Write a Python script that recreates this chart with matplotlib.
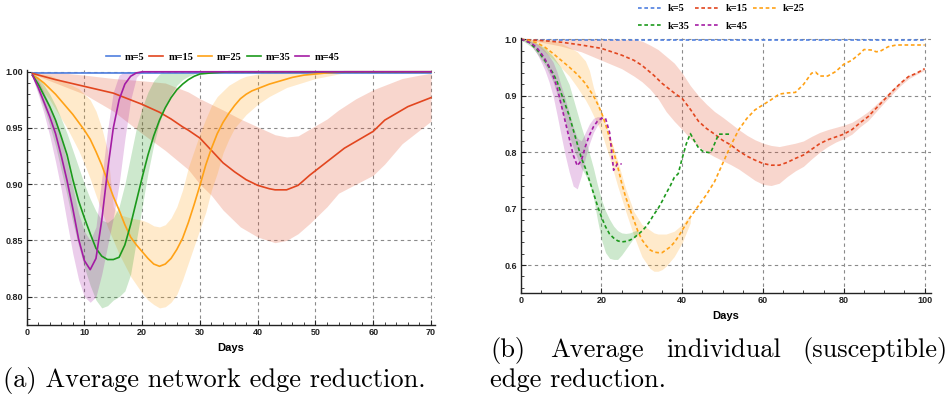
import matplotlib
matplotlib.use("Agg")
import matplotlib.pyplot as plt
from matplotlib.ticker import MultipleLocator, FormatStrFormatter

# ---------------- (a) average network edge reduction ----------------
net_labels = ["m=5", "m=15", "m=25", "m=35", "m=45"]

net_m5_days = [1, 70]
net_m5 = [0.9993, 0.9993]
net_m5_lo = [0.9985, 0.9985]
net_m5_hi = [1.0, 1.0]

net_m15_days = [1, 5, 10, 15, 20, 23, 25, 27, 28, 30, 32, 34, 36, 38, 40, 42, 43, 45,
                46, 47, 49, 51, 53, 55, 57, 59, 60, 62, 64, 66, 68, 70]
net_m15 = [0.9985, 0.993, 0.987, 0.981, 0.971, 0.964, 0.958, 0.951, 0.948, 0.941, 0.930,
           0.919, 0.911, 0.904, 0.899, 0.896, 0.895, 0.895, 0.897, 0.899, 0.908, 0.916,
           0.924, 0.932, 0.938, 0.944, 0.947, 0.957, 0.963, 0.969, 0.973, 0.977]
net_m15_band_days = [1, 5, 10, 15, 20, 24, 28, 30, 32, 34, 37, 40, 43, 45, 47, 49, 52,
                     54, 57, 60, 62, 65, 68, 70]
net_m15_hi = [1.0, 0.9995, 0.997, 0.994, 0.992, 0.990, 0.982, 0.976, 0.971, 0.966, 0.958,
              0.951, 0.944, 0.942, 0.943, 0.949, 0.958, 0.966, 0.976, 0.984, 0.988, 0.994,
              0.997, 0.9986]
net_m15_lo = [0.998, 0.990, 0.980, 0.965, 0.945, 0.930, 0.913, 0.900, 0.890, 0.877, 0.862,
              0.853, 0.848, 0.850, 0.856, 0.865, 0.880, 0.892, 0.900, 0.908, 0.918, 0.936,
              0.948, 0.956]

net_m25_days = list(range(1, 41)) + [42, 44, 46, 48, 50, 52, 55, 70]
net_m25 = [0.997, 0.994, 0.990, 0.985, 0.980, 0.974, 0.968, 0.962, 0.955, 0.948,
           0.940, 0.929, 0.917, 0.903, 0.889, 0.877, 0.864, 0.853, 0.846, 0.840,
           0.834, 0.829, 0.827, 0.829, 0.834, 0.842, 0.852, 0.866, 0.882, 0.899,
           0.917, 0.932, 0.945, 0.955, 0.963, 0.970, 0.976, 0.980, 0.983, 0.985,
           0.989, 0.992, 0.995, 0.997, 0.998, 0.999, 1.0, 1.0]
net_m25_band_days = [1, 4, 7, 9, 10, 11, 12, 13, 14, 15, 16, 18, 20, 21, 22, 23, 24, 25,
                     26, 27, 28, 29, 30, 31, 32, 33, 34, 35, 36, 37, 38, 40, 42, 45, 50,
                     55, 60, 70]
net_m25_hi = [0.999, 0.997, 0.990, 0.985, 0.980, 0.975, 0.965, 0.950, 0.930, 0.880,
              0.873, 0.870, 0.868, 0.866, 0.863, 0.862, 0.864, 0.870, 0.880, 0.895,
              0.915, 0.930, 0.945, 0.958, 0.970, 0.978, 0.983, 0.988, 0.991, 0.994,
              0.996, 0.998, 1.0, 1.0, 1.0, 1.0, 1.0, 1.0]
net_m25_lo = [0.995, 0.975, 0.950, 0.930, 0.918, 0.905, 0.890, 0.876, 0.862, 0.850,
              0.838, 0.818, 0.803, 0.797, 0.793, 0.790, 0.791, 0.795, 0.802, 0.815,
              0.830, 0.845, 0.860, 0.875, 0.895, 0.910, 0.928, 0.940, 0.950, 0.956,
              0.962, 0.971, 0.978, 0.986, 0.994, 0.999, 1.0, 1.0]

net_m35_days = list(range(1, 31)) + [32, 35, 70]
net_m35 = [0.997, 0.989, 0.979, 0.969, 0.957, 0.942, 0.926, 0.904, 0.885, 0.870,
           0.856, 0.843, 0.836, 0.833, 0.833, 0.835, 0.846, 0.864, 0.885, 0.906,
           0.926, 0.943, 0.957, 0.968, 0.977, 0.984, 0.989, 0.993, 0.996, 0.998,
           0.999, 1.0, 1.0]
net_m35_band_days = list(range(1, 31)) + [70]
net_m35_hi = [0.999, 0.995, 0.988, 0.980, 0.970, 0.958, 0.945, 0.930, 0.915, 0.900,
              0.887, 0.876, 0.868, 0.866, 0.870, 0.880, 0.900, 0.925, 0.950, 0.968,
              0.982, 0.992, 0.998, 1.0, 1.0, 1.0, 1.0, 1.0, 1.0, 1.0, 1.0]
net_m35_lo = [0.995, 0.982, 0.968, 0.952, 0.934, 0.912, 0.890, 0.866, 0.845, 0.826,
              0.810, 0.797, 0.790, 0.792, 0.797, 0.800, 0.805, 0.820, 0.850, 0.880,
              0.910, 0.935, 0.955, 0.970, 0.980, 0.988, 0.993, 0.996, 0.998, 1.0, 1.0]

net_m45_days = list(range(1, 21)) + [70]
net_m45 = [0.997, 0.986, 0.973, 0.960, 0.945, 0.925, 0.903, 0.878, 0.851, 0.832,
           0.824, 0.834, 0.868, 0.912, 0.950, 0.975, 0.989, 0.996, 0.999, 1.0, 1.0]
net_m45_hi = [0.999, 0.993, 0.982, 0.970, 0.957, 0.940, 0.920, 0.897, 0.874, 0.858,
              0.850, 0.862, 0.905, 0.948, 0.982, 0.997, 1.0, 1.0, 1.0, 1.0, 1.0]
net_m45_lo = [0.995, 0.980, 0.963, 0.943, 0.920, 0.895, 0.866, 0.838, 0.815, 0.800,
              0.795, 0.800, 0.820, 0.845, 0.870, 0.900, 0.940, 0.975, 0.995, 1.0, 1.0]

# ---------------- (b) average individual edge reduction ----------------
ind_labels = ["k=5", "k=15", "k=25", "k=35", "k=45"]

ind_k5_days = [0, 100]
ind_k5 = [0.999, 0.999]

ind_k15_days = [0, 5, 10, 15, 20, 25, 28, 30, 33, 35, 38, 40, 42, 44, 46, 48, 50, 52, 54,
                56, 58, 60, 62, 64, 66, 68, 70, 72, 74, 76, 78, 80, 82, 84, 86, 88, 90,
                92, 94, 96, 98, 100]
ind_k15 = [1.0, 0.998, 0.995, 0.990, 0.984, 0.972, 0.963, 0.954, 0.936, 0.922, 0.905,
           0.895, 0.876, 0.855, 0.842, 0.832, 0.821, 0.813, 0.802, 0.793, 0.786, 0.780,
           0.777, 0.777, 0.782, 0.789, 0.795, 0.805, 0.815, 0.822, 0.827, 0.832, 0.840,
           0.852, 0.863, 0.878, 0.893, 0.908, 0.922, 0.934, 0.940, 0.948]
ind_k15_band_days = [0, 5, 10, 15, 20, 25, 28, 30, 32, 34, 36, 38, 40, 42, 44, 46, 48,
                     50, 52, 54, 56, 58, 60, 62, 64, 66, 68, 70, 72, 74, 76, 78, 80, 82,
                     84, 86, 88, 90, 92, 94, 96, 98, 100]
ind_k15_hi = [1.0, 1.0, 1.0, 1.0, 1.0, 1.0, 1.0, 0.997, 0.990, 0.982, 0.970, 0.958, 0.940,
              0.918, 0.900, 0.885, 0.872, 0.862, 0.851, 0.840, 0.830, 0.822, 0.816,
              0.812, 0.810, 0.813, 0.816, 0.820, 0.828, 0.835, 0.840, 0.844, 0.848,
              0.853, 0.862, 0.872, 0.885, 0.898, 0.912, 0.925, 0.936, 0.942, 0.950]
ind_k15_lo = [1.0, 0.995, 0.988, 0.978, 0.963, 0.948, 0.935, 0.925, 0.912, 0.895, 0.872,
              0.855, 0.840, 0.824, 0.810, 0.800, 0.792, 0.785, 0.778, 0.770, 0.760,
              0.750, 0.743, 0.741, 0.745, 0.757, 0.767, 0.775, 0.788, 0.800, 0.810,
              0.818, 0.824, 0.832, 0.845, 0.856, 0.872, 0.888, 0.903, 0.918, 0.930,
              0.938, 0.945]

ind_k25_days = [0, 2, 4, 6, 8, 10, 12, 14, 16, 18, 19, 20, 21, 22, 23, 24, 25, 26, 27, 28,
                29, 30, 31, 32, 33, 34, 35, 36, 37, 38, 39, 40, 42, 44, 46, 48, 50, 52,
                54, 56, 58, 60, 62, 64, 66, 68, 70, 72, 73, 74, 76, 78, 80, 82, 84, 85,
                87, 88, 89, 91, 93, 95, 100]
ind_k25 = [1.0, 0.998, 0.994, 0.986, 0.975, 0.963, 0.951, 0.938, 0.922, 0.900, 0.886,
           0.870, 0.850, 0.825, 0.800, 0.775, 0.745, 0.720, 0.700, 0.680, 0.660, 0.645,
           0.635, 0.627, 0.623, 0.622, 0.622, 0.627, 0.632, 0.640, 0.650, 0.662, 0.685,
           0.705, 0.725, 0.748, 0.780, 0.812, 0.840, 0.860, 0.875, 0.884, 0.893, 0.903,
           0.905, 0.906, 0.920, 0.940, 0.942, 0.935, 0.935, 0.943, 0.956, 0.963, 0.975,
           0.982, 0.981, 0.978, 0.979, 0.987, 0.990, 0.990, 0.990]
ind_k25_band_days = [0, 4, 8, 10, 12, 14, 16, 17, 18, 19, 20, 22, 24, 26, 28, 30, 32, 33,
                     34, 35, 36, 38, 40, 42]
ind_k25_hi = [1.0, 1.0, 0.998, 0.993, 0.986, 0.978, 0.962, 0.945, 0.915, 0.892, 0.872,
              0.830, 0.785, 0.735, 0.695, 0.672, 0.662, 0.657, 0.655, 0.655, 0.655,
              0.660, 0.672, 0.690]
ind_k25_lo = [1.0, 0.990, 0.965, 0.950, 0.935, 0.915, 0.893, 0.880, 0.865, 0.850, 0.835,
              0.790, 0.740, 0.695, 0.652, 0.615, 0.594, 0.589, 0.589, 0.592, 0.598,
              0.615, 0.640, 0.675]

ind_k35_days = [0, 2, 4, 6, 8, 9, 10, 11, 12, 13, 14, 15, 16, 17, 18, 19, 20, 21, 22, 23,
                24, 25, 26, 27, 28, 29, 30, 31, 32, 33, 34, 35, 36, 37, 38, 39, 40, 41,
                42, 43, 44, 45, 46, 47, 48, 49, 50, 52]
ind_k35 = [1.0, 0.995, 0.982, 0.962, 0.940, 0.925, 0.905, 0.885, 0.865, 0.840, 0.815,
           0.790, 0.772, 0.750, 0.728, 0.705, 0.685, 0.668, 0.655, 0.648, 0.643, 0.641,
           0.642, 0.644, 0.648, 0.654, 0.660, 0.668, 0.678, 0.690, 0.700, 0.713, 0.727,
           0.740, 0.755, 0.762, 0.790, 0.815, 0.833, 0.820, 0.808, 0.802, 0.800, 0.799,
           0.815, 0.832, 0.832, 0.832]
ind_k35_band_days = [0, 3, 6, 8, 10, 12, 13, 14, 15, 16, 17, 18, 19, 20, 21, 22, 23, 24,
                     25, 26, 27, 28, 29]
ind_k35_hi = [1.0, 0.997, 0.985, 0.970, 0.950, 0.920, 0.895, 0.870, 0.845, 0.822, 0.798,
              0.772, 0.742, 0.716, 0.696, 0.681, 0.669, 0.661, 0.657, 0.656, 0.657,
              0.660, 0.662]
ind_k35_lo = [1.0, 0.985, 0.955, 0.925, 0.880, 0.830, 0.808, 0.790, 0.772, 0.760, 0.745,
              0.720, 0.680, 0.645, 0.622, 0.612, 0.610, 0.610, 0.618, 0.628, 0.638,
              0.648, 0.655]

ind_k45_days = list(range(0, 26))
ind_k45 = [1.0, 0.998, 0.995, 0.991, 0.985, 0.976, 0.965, 0.952, 0.935, 0.915, 0.885,
           0.855, 0.825, 0.795, 0.776, 0.785, 0.810, 0.830, 0.845, 0.855, 0.860, 0.860,
           0.835, 0.768, 0.780, 0.779]
ind_k45_band_days = list(range(0, 21))
ind_k45_hi = [1.0, 0.999, 0.998, 0.995, 0.992, 0.987, 0.980, 0.971, 0.960, 0.942, 0.918,
              0.895, 0.870, 0.845, 0.825, 0.820, 0.835, 0.850, 0.860, 0.863, 0.863]
ind_k45_lo = [1.0, 0.997, 0.993, 0.985, 0.975, 0.961, 0.945, 0.925, 0.900, 0.866, 0.830,
              0.795, 0.765, 0.740, 0.735, 0.758, 0.790, 0.815, 0.835, 0.848, 0.855]

# ---------------- styling ----------------
c_blue, c_red, c_orange, c_green, c_purple = "#4f7fdf", "#e2461f", "#ffa216", "#1c991c", "#a41ca4"
band_alpha = 0.22

plt.rcParams["font.family"] = ["Liberation Sans", "DejaVu Sans"]

W, H = 949, 397
fig = plt.figure(figsize=(W / 100, H / 100), dpi=100)
ax1 = fig.add_axes([0.0281, 0.1814, 0.4303, 0.6435])
ax2 = fig.add_axes([0.5487, 0.2627, 0.4320, 0.6410])


def style_axis(ax):
    for side in ("top", "right"):
        ax.spines[side].set_visible(False)
    for side in ("left", "bottom"):
        ax.spines[side].set_linewidth(1.0)
        ax.spines[side].set_color("#222222")
    ax.tick_params(which="both", direction="in", labelsize=6.5, colors="#222222",
                   pad=2.5)
    ax.tick_params(which="major", length=3.5, width=0.8)
    ax.tick_params(which="minor", length=2.0, width=0.6)
    for lab in ax.get_xticklabels() + ax.get_yticklabels():
        lab.set_fontweight("bold")
    ax.grid(True, which="major", color="#8a8a8a", linestyle=(0, (3, 3)), linewidth=0.8)
    ax.set_axisbelow(True)
    ax.set_xlabel("Days", fontsize=8, fontweight="bold", labelpad=4)


legend_font = {"family": "Liberation Serif", "weight": "bold", "size": 7.5}

# (a)
ax1.fill_between(net_m15_band_days, net_m15_lo, net_m15_hi, color=c_red, alpha=band_alpha, lw=0)
ax1.fill_between(net_m25_band_days, net_m25_lo, net_m25_hi, color=c_orange, alpha=band_alpha, lw=0)
ax1.fill_between(net_m35_band_days, net_m35_lo, net_m35_hi, color=c_green, alpha=band_alpha, lw=0)
ax1.fill_between(net_m45_days, net_m45_lo, net_m45_hi, color=c_purple, alpha=band_alpha, lw=0)
ax1.fill_between(net_m5_days, net_m5_lo, net_m5_hi, color=c_blue, alpha=band_alpha, lw=0)
lw_a = 1.2
ax1.plot(net_m5_days, net_m5, color=c_blue, lw=lw_a, label=net_labels[0])
ax1.plot(net_m15_days, net_m15, color=c_red, lw=lw_a, label=net_labels[1])
ax1.plot(net_m25_days, net_m25, color=c_orange, lw=lw_a, label=net_labels[2])
ax1.plot(net_m35_days, net_m35, color=c_green, lw=lw_a, label=net_labels[3])
ax1.plot(net_m45_days, net_m45, color=c_purple, lw=lw_a, label=net_labels[4])

ax1.set_xlim(0, 70.7)
ax1.set_ylim(0.7748, 1.002)
ax1.xaxis.set_major_locator(MultipleLocator(10))
ax1.xaxis.set_minor_locator(MultipleLocator(2))
ax1.yaxis.set_major_locator(MultipleLocator(0.05))
ax1.yaxis.set_minor_locator(MultipleLocator(0.01))
ax1.yaxis.set_major_formatter(FormatStrFormatter("%.2f"))
style_axis(ax1)

ax1.legend(loc="center", bbox_to_anchor=(222.5 / W, 1 - 57 / H),
           bbox_transform=fig.transFigure, ncol=5, frameon=False, borderpad=0,
           borderaxespad=0, handlelength=1.35, handletextpad=0.5, columnspacing=0.45,
           prop=legend_font)

# (b)
ax2.fill_between(ind_k15_band_days, ind_k15_lo, ind_k15_hi, color=c_red, alpha=band_alpha, lw=0)
ax2.fill_between(ind_k25_band_days, ind_k25_lo, ind_k25_hi, color=c_orange, alpha=band_alpha, lw=0)
ax2.fill_between(ind_k35_band_days, ind_k35_lo, ind_k35_hi, color=c_green, alpha=band_alpha, lw=0)
ax2.fill_between(ind_k45_band_days, ind_k45_lo, ind_k45_hi, color=c_purple, alpha=band_alpha, lw=0)
dash = (0, (2.2, 1.6))
lw_b = 1.2
ax2.plot(ind_k5_days, ind_k5, color=c_blue, lw=lw_b, ls=dash, label=ind_labels[0])
ax2.plot(ind_k15_days, ind_k15, color=c_red, lw=lw_b, ls=dash, label=ind_labels[1])
ax2.plot(ind_k25_days, ind_k25, color=c_orange, lw=lw_b, ls=dash, label=ind_labels[2])
ax2.plot(ind_k35_days, ind_k35, color=c_green, lw=lw_b, ls=dash, label=ind_labels[3])
ax2.plot(ind_k45_days, ind_k45, color=c_purple, lw=lw_b, ls=dash, label=ind_labels[4])

ax2.set_xlim(0, 101.5)
ax2.set_ylim(0.551, 1.002)
ax2.xaxis.set_major_locator(MultipleLocator(20))
ax2.xaxis.set_minor_locator(MultipleLocator(5))
ax2.yaxis.set_major_locator(MultipleLocator(0.1))
ax2.yaxis.set_minor_locator(MultipleLocator(0.02))
ax2.yaxis.set_major_formatter(FormatStrFormatter("%.1f"))
style_axis(ax2)

# legend filled row by row: k=5 k=15 k=25 / k=35 k=45
h, l = ax2.get_legend_handles_labels()
order = [0, 3, 1, 4, 2]
ax2.legend([h[i] for i in order], [l[i] for i in order], loc="center left",
           bbox_to_anchor=(638 / W, 1 - 17.5 / H), bbox_transform=fig.transFigure,
           ncol=3, frameon=False, borderpad=0, borderaxespad=0,
           handlelength=2.3, handletextpad=0.6, columnspacing=0.5, labelspacing=0.8,
           prop=legend_font)

# captions
cap = dict(family="cmr10", fontsize=19, color="black", va="baseline")
fig.text(3 / W, 1 - 387 / H, "(a) Average network edge reduction.", ha="left", **cap)

# caption (b): justified first line, second line left aligned
for word, xpix in [("(b)", 490), ("Average", 550), ("individual", 666), ("(susceptible)", 802)]:
    fig.text(xpix / W, 1 - 357 / H, word, ha="left", **cap)
fig.text(490 / W, 1 - 387 / H, "edge reduction.", ha="left", **cap)

fig.savefig("out.png", dpi=100)
